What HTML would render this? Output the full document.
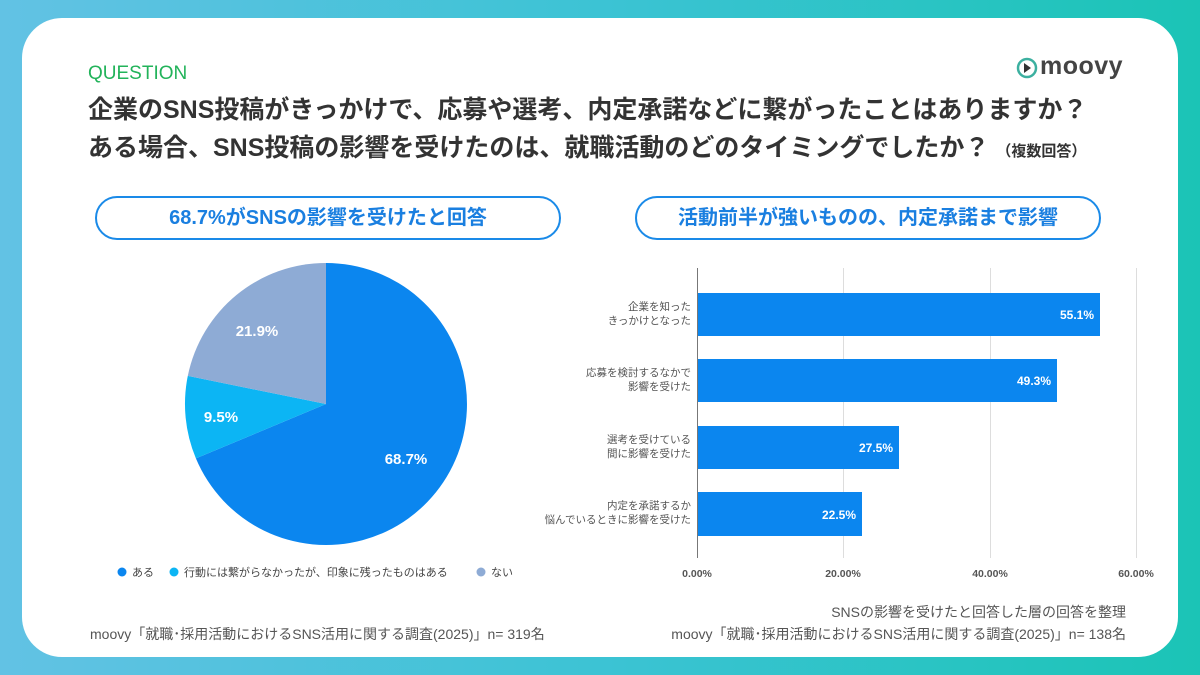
<!DOCTYPE html>
<html><head><meta charset="utf-8"><style>
*{margin:0;padding:0;box-sizing:border-box}
body{width:1200px;height:675px;overflow:hidden;background:linear-gradient(90deg,#62c2e4 0%,#3cc3d4 50%,#1bc4b6 100%);font-family:"Liberation Sans","Noto Sans CJK JP",sans-serif;position:relative}
.card{position:absolute;left:22px;top:18px;width:1156px;height:639px;background:#fff;border-radius:40px}
.a{position:absolute;white-space:nowrap}
.pill{position:absolute;top:196px;height:44px;border:2px solid #1a8ae8;border-radius:22px;color:#1a7fe0;font-weight:bold;font-size:20px;text-align:center;line-height:40px}
</style></head><body>
<div class="card"></div>
<div class="a" style="left:88px;top:63px;font-size:19px;color:#22b35a">QUESTION</div>
<div class="a" style="left:88px;top:90px;font-size:25px;font-weight:bold;color:#333">企業のSNS投稿がきっかけで、応募や選考、内定承諾などに繋がったことはありますか？</div>
<div class="a" style="left:88px;top:128px;font-size:25px;font-weight:bold;color:#333">ある場合、SNS投稿の影響を受けたのは、就職活動のどのタイミングでしたか？ <span style="font-size:15px">（複数回答）</span></div>
<svg class="a" style="left:1016px;top:55px" width="22" height="26"><circle cx="11" cy="13" r="9" fill="none" stroke="#3cb0a0" stroke-width="2.5"/><path d="M8 8 L15 13 L8 18Z" fill="#333"/></svg>
<div class="a" style="left:1040px;top:52px;font-size:25px;font-weight:bold;color:#444;letter-spacing:0.5px">moovy</div>
<div class="pill" style="left:95px;width:466px">68.7%がSNSの影響を受けたと回答</div>
<div class="pill" style="left:635px;width:466px">活動前半が強いものの、内定承諾まで影響</div>
<svg class="a" style="left:0;top:0" width="1200" height="675">
<path d="M326 404 L326 263 A141 141 0 1 1 195.9 458.4Z" fill="#0b86ef"/>
<path d="M326 404 L195.9 458.4 A141 141 0 0 1 187.8 375.9Z" fill="#0cb5f4"/>
<path d="M326 404 L187.8 375.9 A141 141 0 0 1 326 263Z" fill="#8eabd5"/>
<g font-weight="bold" fill="#fff" font-size="15" text-anchor="middle">
<text x="406" y="464">68.7%</text><text x="221" y="422">9.5%</text><text x="257" y="336">21.9%</text></g>
<g font-size="11" fill="#444">
<circle cx="122" cy="572" r="4.5" fill="#0b86ef"/><text x="132" y="576">ある</text>
<circle cx="174" cy="572" r="4.5" fill="#0cb5f4"/><text x="184" y="576">行動には繋がらなかったが、印象に残ったものはある</text>
<circle cx="481" cy="572" r="4.5" fill="#8eabd5"/><text x="491" y="576">ない</text></g>
<g stroke="#ddd" stroke-width="1"><line x1="843.5" y1="268" x2="843.5" y2="558"/><line x1="990.5" y1="268" x2="990.5" y2="558"/><line x1="1136.5" y1="268" x2="1136.5" y2="558"/></g>
<line x1="697.5" y1="268" x2="697.5" y2="558" stroke="#777"/>
<g fill="#0b86ef"><rect x="698" y="293" width="402" height="43"/><rect x="698" y="359" width="359" height="43"/><rect x="698" y="426" width="201" height="43"/><rect x="698" y="492" width="164" height="44"/></g>
<g font-weight="bold" fill="#fff" font-size="12" text-anchor="end"><text x="1094" y="319">55.1%</text><text x="1051" y="385">49.3%</text><text x="893" y="452">27.5%</text><text x="856" y="519">22.5%</text></g>
<g font-size="10.5" fill="#555" text-anchor="end">
<text x="691" y="310">企業を知った</text><text x="691" y="324">きっかけとなった</text>
<text x="691" y="376">応募を検討するなかで</text><text x="691" y="390">影響を受けた</text>
<text x="691" y="443">選考を受けている</text><text x="691" y="457">間に影響を受けた</text>
<text x="691" y="509">内定を承諾するか</text><text x="691" y="523">悩んでいるときに影響を受けた</text></g>
<g font-size="10.5" fill="#555" text-anchor="middle" font-weight="bold"><text x="697" y="577">0.00%</text><text x="843" y="577">20.00%</text><text x="990" y="577">40.00%</text><text x="1136" y="577">60.00%</text></g>
</svg>
<div class="a" style="left:90px;top:624px;font-size:14px;color:#555">moovy「就職･採用活動におけるSNS活用に関する調査(2025)」n= 319名</div>
<div class="a" style="right:74px;top:602px;font-size:14px;color:#555">SNSの影響を受けたと回答した層の回答を整理</div>
<div class="a" style="right:74px;top:624px;font-size:14px;color:#555">moovy「就職･採用活動におけるSNS活用に関する調査(2025)」n= 138名</div>
</body></html>
